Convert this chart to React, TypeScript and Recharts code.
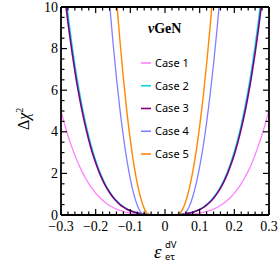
import { LineChart, Line, XAxis, YAxis } from 'recharts'

// epsilon_{e tau}^{dV} grid
const EPS = [
  -0.30, -0.29, -0.28, -0.27, -0.26, -0.25, -0.24, -0.23, -0.22, -0.21,
  -0.20, -0.19, -0.18, -0.17, -0.16, -0.15, -0.14, -0.13, -0.12, -0.11,
  -0.10, -0.09, -0.08, -0.07, -0.06, -0.05, -0.04, -0.03, -0.02, -0.01,
  0,
  0.01, 0.02, 0.03, 0.04, 0.05, 0.06, 0.07, 0.08, 0.09, 0.10,
  0.11, 0.12, 0.13, 0.14, 0.15, 0.16, 0.17, 0.18, 0.19, 0.20,
  0.21, 0.22, 0.23, 0.24, 0.25, 0.26, 0.27, 0.28, 0.29, 0.30,
]

// Δχ² per case
const CASE_1 = [
  5.0, 4.383, 3.825, 3.322, 2.872, 2.469, 2.11, 1.793, 1.513, 1.268,
  1.054, 0.869, 0.71, 0.574, 0.46, 0.363, 0.283, 0.218, 0.164, 0.122,
  0.088, 0.063, 0.043, 0.029, 0.018, 0.011, 0.006, 0.003, 0.001, 0,
  0,
  0, 0.001, 0.003, 0.006, 0.011, 0.018, 0.029, 0.043, 0.063, 0.088,
  0.122, 0.164, 0.218, 0.283, 0.363, 0.46, 0.574, 0.71, 0.869, 1.054,
  1.268, 1.513, 1.793, 2.11, 2.469, 2.9, 3.36, 3.87, 4.43, 5.05,
]
const CASE_2 = [
  12.63, 11.04, 9.63, 8.35, 7.2, 6.18, 5.27, 4.47, 3.76, 3.14,
  2.61, 2.14, 1.75, 1.4, 1.12, 0.88, 0.69, 0.52, 0.4, 0.29,
  0.21, 0.15, 0.1, 0.066, 0.042, 0.025, 0.014, 0.006, 0.002, 0.0003,
  0.0001,
  0.0017, 0.005, 0.011, 0.022, 0.037, 0.06, 0.093, 0.136, 0.194, 0.271,
  0.37, 0.494, 0.649, 0.839, 1.069, 1.345, 1.672, 2.058, 2.508, 3.03,
  3.631, 4.319, 5.101, 5.988, 6.987, 8.107, 9.359, 10.75, 12.29, 14.01,
]
const CASE_3 = [
  12.14, 10.62, 9.26, 8.03, 6.92, 5.94, 5.07, 4.3, 3.62, 3.02,
  2.51, 2.06, 1.68, 1.35, 1.08, 0.85, 0.66, 0.5, 0.38, 0.28,
  0.2, 0.14, 0.096, 0.063, 0.04, 0.024, 0.013, 0.006, 0.002, 0.0003,
  0.0001,
  0.0016, 0.005, 0.011, 0.021, 0.036, 0.058, 0.089, 0.131, 0.187, 0.261,
  0.356, 0.475, 0.624, 0.807, 1.028, 1.293, 1.608, 1.979, 2.412, 2.913,
  3.491, 4.153, 4.905, 5.758, 6.718, 7.795, 8.999, 10.338, 11.82, 13.47,
]
const CASE_4 = [
  57.4, 52.7, 48.3, 44.0, 40.0, 36.1, 32.5, 29.0, 25.7, 22.6,
  19.8, 17.1, 14.6, 12.3, 10.2, 8.29, 6.59, 5.08, 3.77, 2.65,
  1.73, 1.0, 0.47, 0.14, 0.004, 0, 0, 0, 0, 0,
  0,
  0, 0, 0, 0, 0.003, 0.12, 0.41, 0.88, 1.51, 2.32,
  3.29, 4.44, 5.76, 7.25, 8.92, 10.75, 12.8, 14.9, 17.3, 19.8,
  22.5, 25.4, 28.4, 31.6, 35.0, 38.5, 42.2, 46.1, 50.2, 54.4,
]
const CASE_5 = [
  73.2, 67.6, 62.2, 57.1, 52.2, 47.5, 43.0, 38.7, 34.7, 30.9,
  27.3, 23.9, 20.8, 17.9, 15.2, 12.7, 10.4, 8.39, 6.57, 4.97,
  3.6, 2.45, 1.52, 0.81, 0.32, 0.054, 0, 0, 0, 0,
  0,
  0, 0, 0, 0.035, 0.25, 0.66, 1.27, 2.07, 3.07, 4.27,
  5.66, 7.25, 9.03, 11.0, 13.2, 15.6, 18.1, 20.9, 23.8, 27.0,
  30.4, 33.9, 37.6, 41.6, 45.7, 50.1, 54.6, 59.3, 64.2, 69.3,
]

const X_TICKS = [
  -0.3, -0.28, -0.26, -0.24, -0.22, -0.2, -0.18, -0.16, -0.14, -0.12,
  -0.1, -0.08, -0.06, -0.04, -0.02, 0, 0.02, 0.04, 0.06, 0.08,
  0.1, 0.12, 0.14, 0.16, 0.18, 0.2, 0.22, 0.24, 0.26, 0.28, 0.3,
]
const Y_TICKS = [
  0, 0.5, 1, 1.5, 2, 2.5, 3, 3.5, 4, 4.5, 5,
  5.5, 6, 6.5, 7, 7.5, 8, 8.5, 9, 9.5, 10,
]

const SERIES = [
  { key: 'c1', name: 'Case 1', color: '#ff80ff', width: 1.3, values: CASE_1 },
  { key: 'c2', name: 'Case 2', color: '#00d8e8', width: 1.6, values: CASE_2 },
  { key: 'c3', name: 'Case 3', color: '#800080', width: 1.6, values: CASE_3 },
  { key: 'c4', name: 'Case 4', color: '#8080ff', width: 1.3, values: CASE_4 },
  { key: 'c5', name: 'Case 5', color: '#ff8800', width: 1.4, values: CASE_5 },
]

const data = EPS.map((e, i) => {
  const row: Record<string, number> = { eps: e }
  SERIES.forEach(s => { row[s.key] = s.values[i] })
  return row
})

const SERIF = '"Liberation Serif", "Times New Roman", serif'
const SANS = '"Noto Sans", "Open Sans", sans-serif'

const isMajor = (v: number, step: number) => Math.abs(v / step - Math.round(v / step)) < 1e-6
const fmtX = (v: number) => (Math.abs(v) < 1e-9 ? '0' : (v < 0 ? '\u2212' : '') + Math.abs(v).toFixed(1))

// tick marks point inward; labels only on bottom / left
function XTick(props: any) {
  const { x, y, payload, side } = props
  const major = isMajor(payload.value, 0.1)
  const len = major ? 6 : 3.5
  const dir = side === 'bottom' ? -1 : 1
  return (
    <g>
      <line x1={x} x2={x} y1={y} y2={y + dir * len} stroke="#000" strokeWidth={1.2} />
      {side === 'bottom' && major && (
        <text x={x} y={y + 16} textAnchor="middle" fontFamily={SERIF} fontSize={14} fill="#000">
          {fmtX(payload.value)}
        </text>
      )}
    </g>
  )
}

function YTick(props: any) {
  const { x, y, payload, side } = props
  const major = isMajor(payload.value, 2)
  const len = major ? 6 : 3.5
  const dir = side === 'left' ? 1 : -1
  return (
    <g>
      <line x1={x} x2={x + dir * len} y1={y} y2={y} stroke="#000" strokeWidth={1.2} />
      {side === 'left' && major && (
        <text x={x - 3} y={y + 4.6} textAnchor="end" fontFamily={SERIF} fontSize={14} fill="#000">
          {payload.value}
        </text>
      )}
    </g>
  )
}

const axisLine = { stroke: '#000', strokeWidth: 1.8 }

export default function App() {
  return (
    <div style={{ position: 'absolute', left: 0, top: 0, width: 278, height: 261, background: '#fff' }}>
      <LineChart width={278} height={261} data={data} margin={{ top: 6, right: 8, left: 21, bottom: 16 }}>
        <XAxis
          xAxisId="b" dataKey="eps" type="number" domain={[-0.3, 0.3]} allowDataOverflow
          ticks={X_TICKS} interval={0} height={30} tickSize={0} tickMargin={0}
          tickLine={false} axisLine={axisLine}
          tick={(p: any) => <XTick {...p} side="bottom" />}
        />
        <XAxis
          xAxisId="t" orientation="top" dataKey="eps" type="number" domain={[-0.3, 0.3]} allowDataOverflow
          ticks={X_TICKS} interval={0} height={1} tickSize={0} tickMargin={0}
          tickLine={false} axisLine={axisLine}
          tick={(p: any) => <XTick {...p} side="top" />}
        />
        <YAxis
          yAxisId="l" type="number" domain={[0, 10]} allowDataOverflow
          ticks={Y_TICKS} interval={0} width={40} tickSize={0} tickMargin={0}
          tickLine={false} axisLine={axisLine}
          tick={(p: any) => <YTick {...p} side="left" />}
        />
        <YAxis
          yAxisId="r" orientation="right" type="number" domain={[0, 10]} allowDataOverflow
          ticks={Y_TICKS} interval={0} width={1} tickSize={0} tickMargin={0}
          tickLine={false} axisLine={axisLine}
          tick={(p: any) => <YTick {...p} side="right" />}
        />
        {/* invisible series so the mirrored top/right axes get their ticks */}
        <Line
          xAxisId="t" yAxisId="r" dataKey="c1" stroke="none" dot={false}
          legendType="none" isAnimationActive={false}
        />
        {SERIES.map(s => (
          <Line
            key={s.key} xAxisId="b" yAxisId="l" dataKey={s.key} name={s.name}
            type="monotone" dot={false} stroke={s.color} strokeWidth={s.width}
            isAnimationActive={false}
          />
        ))}
      </LineChart>

      {/* labels, title and legend */}
      <svg width={278} height={261} style={{ position: 'absolute', left: 0, top: 0, pointerEvents: 'none' }}>
        <text transform="translate(28.5,130) rotate(-90)" fontFamily={SERIF} fontSize={16} fill="#000">
          Δ<tspan fontStyle="italic">χ</tspan>
          <tspan dy={-6} fontSize={10}>2</tspan>
        </text>

        <text x={154} y={258} fontFamily={SERIF} fontStyle="italic" fontSize={19} fill="#000">ε</text>
        <text x={165} y={248} fontFamily={SANS} fontSize={9.5} fill="#000">dV</text>
        <text x={165} y={259.5} fontFamily={SANS} fontSize={9.5} fill="#000">eτ</text>

        <text x={148} y={33} fontFamily={SERIF} fontWeight="bold" fontSize={14} fill="#000">
          <tspan fontStyle="italic">ν</tspan>GeN
        </text>

        {SERIES.map((s, i) => {
          const cy = 63 + i * 22.75
          return (
            <g key={s.key}>
              <line x1={141} x2={151} y1={cy} y2={cy} stroke={s.color} strokeWidth={1.6} />
              <text x={155} y={cy + 3.9} fontFamily={SANS} fontSize={11} fill="#000">{s.name}</text>
            </g>
          )
        })}
      </svg>
    </div>
  )
}
